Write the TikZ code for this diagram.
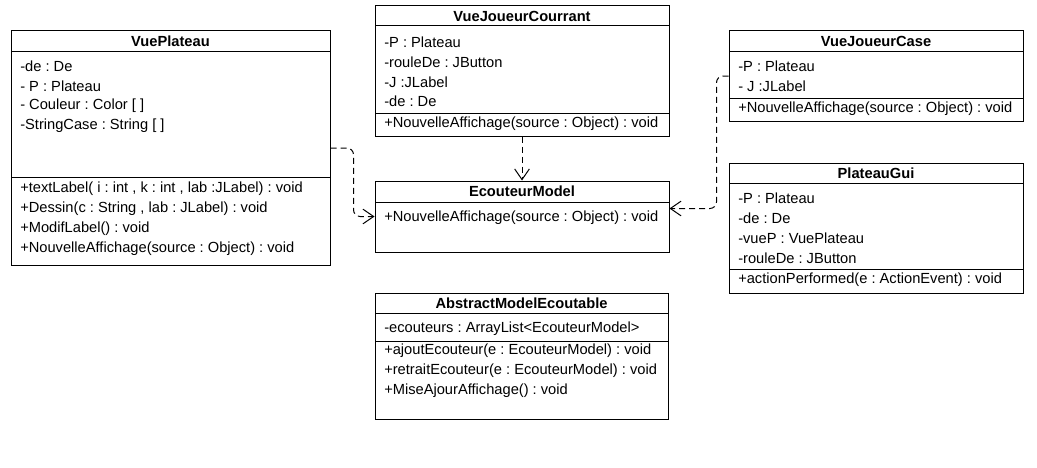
\documentclass[tikz,border=0pt]{standalone}
\usepackage{fontspec}
\setmainfont{Liberation Sans}
\frenchspacing
\usetikzlibrary{arrows.meta,positioning,fit}
\tikzset{
  classbox/.style  = {draw, line width=0.75pt, rectangle, inner sep=0pt},
  classname/.style = {font=\fontsize{11}{13}\selectfont\bfseries, inner sep=0pt},
  member/.style    = {font=\fontsize{11}{13}\selectfont, anchor=west, inner sep=0pt},
  divider/.style   = {line width=0.75pt},
  dep/.style       = {dashed, dash pattern=on 4.5pt off 3pt, line width=0.75pt,
                      rounded corners=5pt,
                      -{Straight Barb[length=8pt, width=11pt, line width=0.75pt]}},
}

\begin{document}
\begin{tikzpicture}[x=0.75pt, y=-0.75pt]
\useasboundingbox[fill=white] (0,0) rectangle (1037,467);
% ---- VuePlateau ----
\node[classbox, fit={(11,31) (330,265)}] (vueplateau) {};
\node[classname] (vueplateau-t) at (170.5,41.5) {VuePlateau};
\draw[divider] (11,52) -- (330,52);
\node[member] (vp-a1) at (20,66)  {-de : De};
\node[member] (vp-a2) at (20,86)  {- P : Plateau};
\node[member] (vp-a3) at (20,106) {- Couleur : Color [ ]};
\node[member] (vp-a4) at (20,126) {-StringCase : String [ ]};
\draw[divider] (11,177) -- (330,177);
\node[member] (vp-m1) at (20,189) {+textLabel( i : int , k : int , lab :JLabel) : void};
\node[member] (vp-m2) at (20,209) {+Dessin(c : String , lab : JLabel) : void};
\node[member] (vp-m3) at (20,229) {+ModifLabel() : void};
\node[member] (vp-m4) at (20,249) {+NouvelleAffichage(source : Object) : void};
% ---- VueJoueurCourrant ----
\node[classbox, fit={(375,6) (669,136)}] (vjcourrant) {};
\node[classname] (vjcourrant-t) at (522,16) {VueJoueurCourrant};
\draw[divider] (375,26) -- (669,26);
\node[member] (vjc-a1) at (384,42)  {-P : Plateau};
\node[member] (vjc-a2) at (384,62)  {-rouleDe : JButton};
\node[member] (vjc-a3) at (384,82)  {-J :JLabel};
\node[member] (vjc-a4) at (384,101) {-de : De};
\draw[divider] (375,113) -- (669,113);
\node[member] (vjc-m1) at (384,124) {+NouvelleAffichage(source : Object) : void};
% ---- EcouteurModel ----
\node[classbox, fit={(375,181) (669,252)}] (ecouteur) {};
\node[classname] (ecouteur-t) at (522,191.5) {EcouteurModel};
\draw[divider] (375,202) -- (669,202);
\node[member] (ec-m1) at (384,218) {+NouvelleAffichage(source : Object) : void};
% ---- VueJoueurCase ----
\node[classbox, fit={(729,31) (1023,121)}] (vjcase) {};
\node[classname] (vjcase-t) at (876,41.5) {VueJoueurCase};
\draw[divider] (729,52) -- (1023,52);
\node[member] (vjk-a1) at (738,66) {-P : Plateau};
\node[member] (vjk-a2) at (738,86) {- J :JLabel};
\draw[divider] (729,98) -- (1023,98);
\node[member] (vjk-m1) at (738,109) {+NouvelleAffichage(source : Object) : void};
% ---- PlateauGui ----
\node[classbox, fit={(729,163) (1023,293)}] (plateaugui) {};
\node[classname] (plateaugui-t) at (876,173) {PlateauGui};
\draw[divider] (729,183) -- (1023,183);
\node[member] (pg-a1) at (738,198) {-P : Plateau};
\node[member] (pg-a2) at (738,218) {-de : De};
\node[member] (pg-a3) at (738,238) {-vueP : VuePlateau};
\node[member] (pg-a4) at (738,258) {-rouleDe : JButton};
\draw[divider] (729,269) -- (1023,269);
\node[member] (pg-m1) at (738,280) {+actionPerformed(e : ActionEvent) : void};
% ---- AbstractModelEcoutable ----
\node[classbox, fit={(375,293) (668,419)}] (abstractmodel) {};
\node[classname] (abstractmodel-t) at (521.5,303) {AbstractModelEcoutable};
\draw[divider] (375,313) -- (668,313);
\node[member] (am-a1) at (384,329) {-ecouteurs : ArrayList<EcouteurModel>};
\draw[divider] (375,341) -- (668,341);
\node[member] (am-m1) at (384,351) {+ajoutEcouteur(e : EcouteurModel) : void};
\node[member] (am-m2) at (384,371) {+retraitEcouteur(e : EcouteurModel) : void};
\node[member] (am-m3) at (384,391) {+MiseAjourAffichage() : void};
% ---- dependencies ----
\draw[dep] (vueplateau.east) -- ++(23,0) |- (ecouteur.west);
\draw[dep] (vjcourrant.south) -- (ecouteur.north);
\draw[dep] (vjcase.west) -- ++(-12,0) |- ([yshift=6pt]ecouteur.east);
\end{tikzpicture}
\end{document}
